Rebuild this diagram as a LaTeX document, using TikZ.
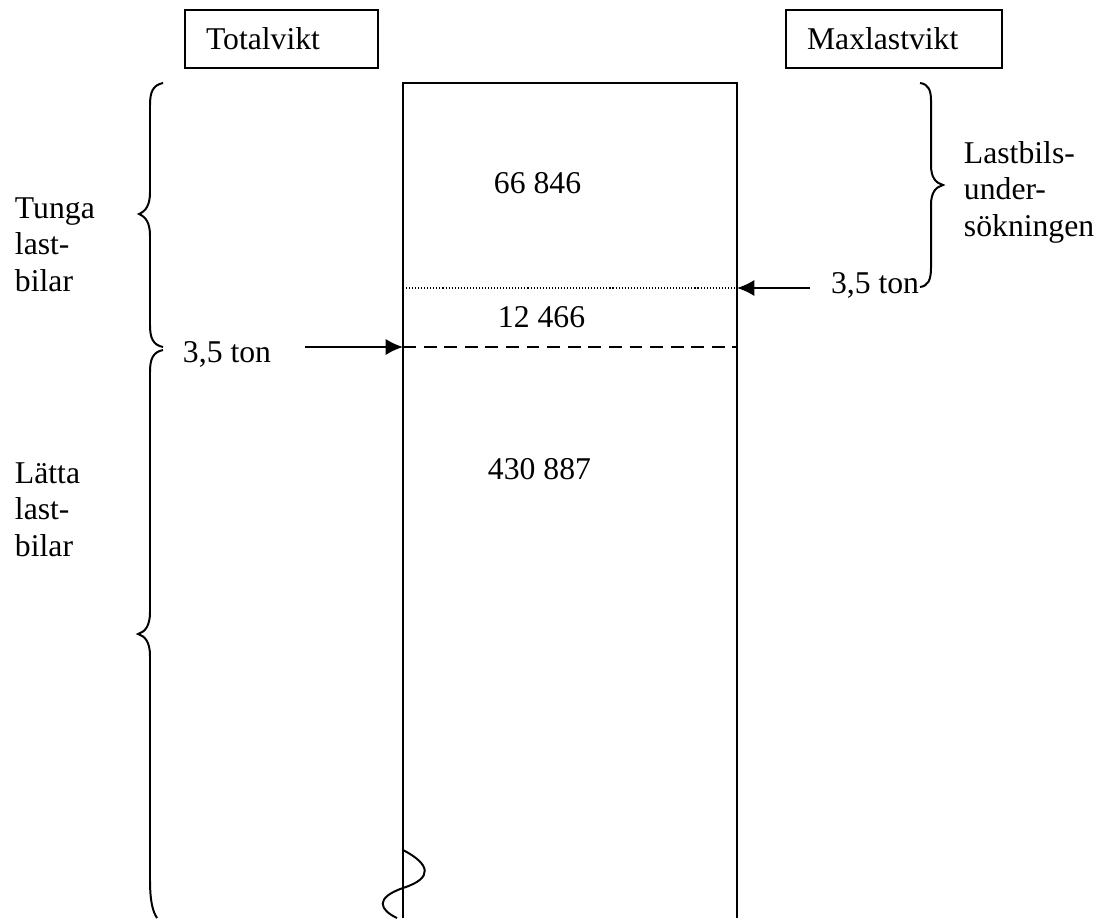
\documentclass[tikz,border=0pt]{standalone}
\usepackage{fontspec}
\setmainfont{Liberation Serif}
\usetikzlibrary{arrows.meta}
\begin{document}
\begin{tikzpicture}[x=0.3788pt,y=-0.3788pt,
  line width=0.75pt,
  txt/.style={anchor=base west,inner sep=0pt,font=\fontsize{12}{13.8}\selectfont},
  mtxt/.style={txt,align=left},
  hdr/.style={draw,line width=0.75pt,align=left,inner xsep=8pt,inner ysep=0pt,
    minimum height=22pt,font=\fontsize{12}{13.8}\selectfont},
  arr/.style={-{Latex[length=6.6pt,width=6.2pt]}},
  bracepath/.style={line width=0.75pt},
  dotline/.style={line width=0.4pt,dash pattern=on 0.4pt off 0.75pt},
  dashline/.style={line width=0.75pt,dash pattern=on 4.9pt off 2.9pt}
]
\useasboundingbox (0,0) rectangle (1109,918);

% header boxes
\node[hdr,text width=57.2pt] (tot) at (281.5,39) {Totalvikt};
\node[hdr,text width=65.9pt] (max) at (894,39) {Maxlastvikt};

% main column
\coordinate (tl) at (403,83);
\coordinate (tr) at (737,83);
\coordinate (bl) at (403,918);
\coordinate (br) at (737,918);
\draw (bl) -- (tl) -- (tr) -- (br);

% separating lines
\coordinate (dotl) at (403,288);
\coordinate (dotr) at (737,288);
\coordinate (dashl) at (403,347);
\coordinate (dashr) at (737,347);
\draw[dotline] (dotl) -- (dotr);
\draw[dashline] (dashl) -- (dashr);

% numbers
\node[txt] (n1) at (493,193) {66 846};
\node[txt] (n2) at (497,327) {12 466};
\node[txt] (n3) at (487,479) {430 887};

% left labels (base = last line)
\node[mtxt] (tunga) at (14,291) {Tunga\\last-\\bilar};
\node[mtxt] (latta) at (14,556) {Lätta\\last-\\bilar};
\node[txt] (tonl) at (182,362) {3,5 ton};
\coordinate (la) at (305,347);
\draw[arr] (la) -- (dashl);

% right labels
\node[mtxt] (lastb) at (963,236) {Lastbils-\\under-\\sökningen};
\node[txt] (tonr) at (830,293) {3,5 ton};
\coordinate (ra) at (810,288);
\draw[arr] (ra) -- (dotr);

% braces
\draw[bracepath] (163,83) .. controls (153,85) and (150,92) .. (150,105)
  -- (150,192) .. controls (150,205) and (146,211) .. (139,214)
  .. controls (146,217) and (150,223) .. (150,236)
  -- (150,325) .. controls (150,338) and (153,345) .. (163,347);
\draw[bracepath] (163,350) .. controls (153,352) and (150,359) .. (150,372)
  -- (150,612) .. controls (150,626) and (145,632) .. (138,634)
  .. controls (145,636) and (150,642) .. (150,656)
  -- (150,880) .. controls (150,902) and (153,912) .. (157,918);
\draw[bracepath] (920,83) .. controls (928,84) and (931,90) .. (931,100)
  -- (931,165) .. controls (931,178) and (936,183) .. (943,185)
  .. controls (936,187) and (931,192) .. (931,205)
  -- (931,268) .. controls (931,280) and (928,286) .. (920,287);

% break wave
\draw (403,850) .. controls (430,864) and (434,878) .. (403,888)
  .. controls (374,898) and (380,910) .. (397,918);
\end{tikzpicture}
\end{document}
